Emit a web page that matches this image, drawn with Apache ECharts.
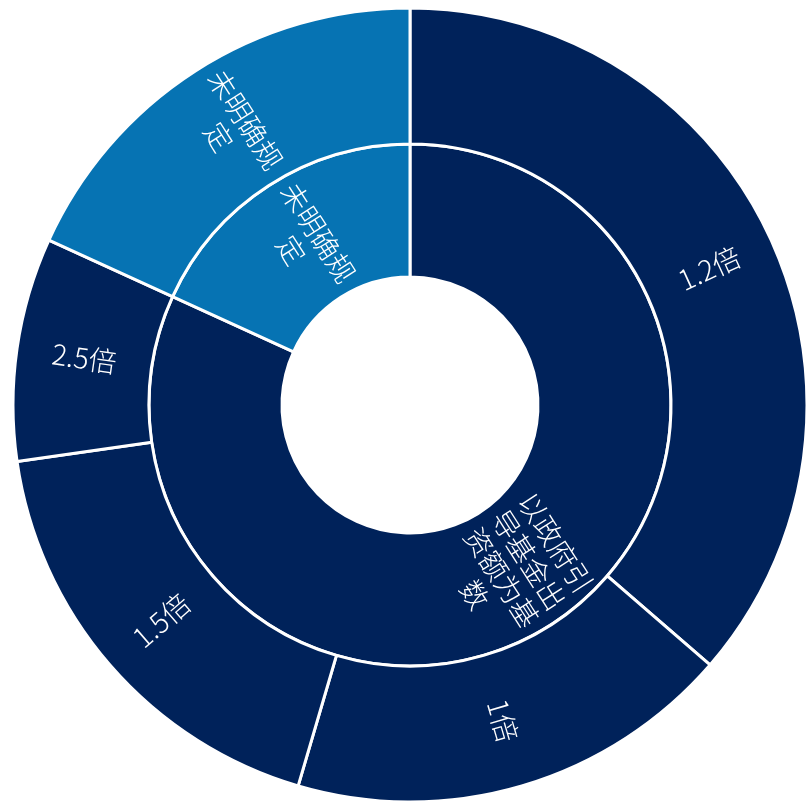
<!DOCTYPE html>
<html>
<head>
<meta charset="utf-8">
<script src="https://cdn.jsdelivr.net/npm/echarts@6/dist/echarts.min.js"></script>
<style>
  html, body { margin: 0; padding: 0; background: #fff; }
  #chart { width: 809px; height: 806px; }
</style>
</head>
<body>
<div id="chart"></div>
<script>
// 内圈：计算基数
const innerNames = ['以政府引导基金出资额为基数', '未明确规定'];
// 外圈：倍数
const outerNames = ['1.2倍', '1倍', '1.5倍', '2.5倍', '未明确规定'];
const outerValues = [4, 2, 2, 1, 2];
const outerParent = [0, 0, 0, 0, 1];

const innerColors = ['#00225A', '#0673B3'];

// 每4个字换行
const wrap = (s) => s.match(/.{1,4}/g).join('\n');

const treeData = innerNames.map((name, i) => ({
  name: name,
  itemStyle: { color: innerColors[i] },
  children: outerNames
    .map((n, j) => ({ name: n, value: outerValues[j], p: outerParent[j] }))
    .filter(d => d.p === i)
    .map(d => ({ name: d.name, value: d.value, itemStyle: { color: innerColors[i] } }))
}));

const chart = echarts.init(document.getElementById('chart'));
chart.setOption({
  animation: false,
  series: [{
    type: 'sunburst',
    center: [410, 405],
    sort: null,
    startAngle: 90,
    data: treeData,
    emphasis: { focus: 'none' },
    itemStyle: { borderColor: '#fff', borderWidth: 3 },
    label: {
      rotate: 'radial',
      color: '#fff',
      fontSize: 28,
      lineHeight: 32,
      fontWeight: 300,
      fontFamily: '"Noto Sans CJK SC", "Noto Sans", sans-serif',
      formatter: (p) => wrap(p.name)
    },
    levels: [
      {},
      { r0: 128, r: 261 },
      { r0: 261, r: 397 }
    ]
  }]
});
</script>
</body>
</html>
